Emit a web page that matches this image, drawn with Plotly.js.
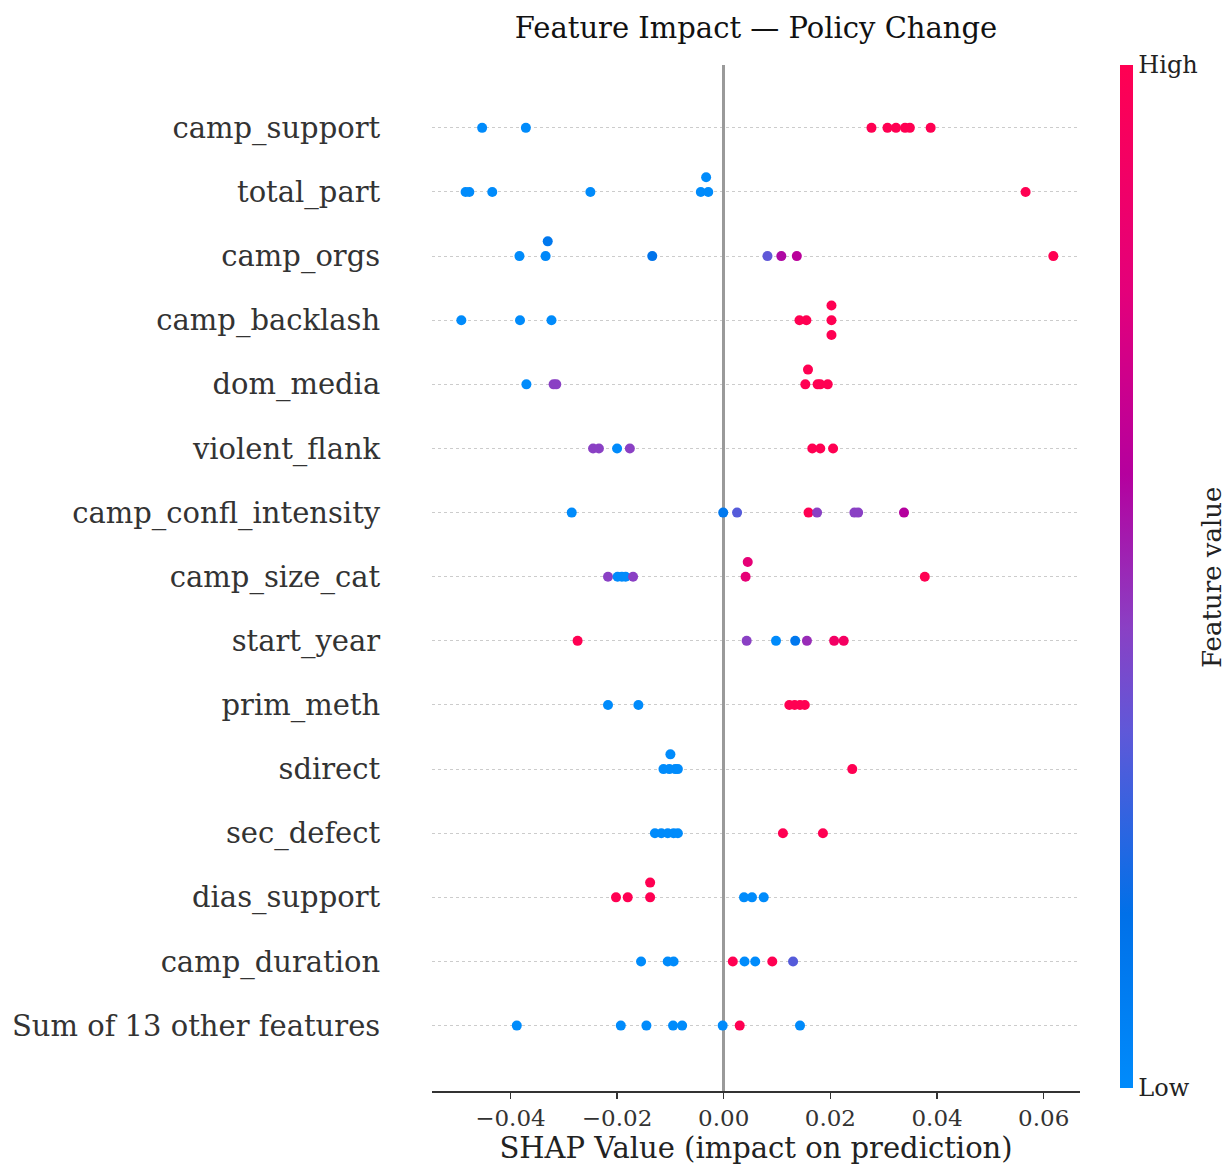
<!DOCTYPE html>
<html>
<head>
<meta charset="utf-8">
<script src="https://cdn.plot.ly/plotly-3.0.1.min.js"></script>
<style>html,body{margin:0;padding:0;background:#fff;}#chart{width:1227px;height:1167px;}</style>
</head>
<body>
<div id="chart"></div>
<script>
// Features, top to bottom
const features = ["camp_support","total_part","camp_orgs","camp_backlash","dom_media","violent_flank",
  "camp_confl_intensity","camp_size_cat","start_year","prim_meth","sdirect","sec_defect",
  "dias_support","camp_duration","Sum of 13 other features"];

// SHAP values per feature
const shap_camp_support = [-0.0453,-0.0371,0.0277,0.0307,0.0323,0.0340,0.0349,0.0388];
const shap_total_part = [-0.0484,-0.0477,-0.0434,-0.0250,-0.0043,-0.0029,-0.0033,0.0566];
const shap_camp_orgs = [-0.0383,-0.0334,-0.0330,-0.0134,0.0082,0.0108,0.0137,0.0618];
const shap_camp_backlash = [-0.0492,-0.0382,-0.0323,0.0142,0.0155,0.0202,0.0202,0.0202];
const shap_dom_media = [-0.0370,-0.0319,-0.0314,0.0153,0.0158,0.0176,0.0181,0.0195];
const shap_violent_flank = [-0.0245,-0.0234,-0.0200,-0.0176,0.0166,0.0181,0.0205];
const shap_camp_confl_intensity = [-0.0285,-0.0001,0.0025,0.0159,0.0175,0.0245,0.0252,0.0338];
const shap_camp_size_cat = [-0.0217,-0.0199,-0.0191,-0.0184,-0.0170,0.0041,0.0045,0.0377];
const shap_start_year = [-0.0274,0.0043,0.0098,0.0134,0.0156,0.0207,0.0225];
const shap_prim_meth = [-0.0217,-0.0160,0.0123,0.0133,0.0143,0.0152];
const shap_sdirect = [-0.0113,-0.0102,-0.0091,-0.0086,-0.0100,0.0241];
const shap_sec_defect = [-0.0129,-0.0117,-0.0105,-0.0094,-0.0086,0.0111,0.0186];
const shap_dias_support = [-0.0202,-0.0180,-0.0138,-0.0138,0.0038,0.0053,0.0075];
const shap_camp_duration = [-0.0155,-0.0105,-0.0094,0.0017,0.0039,0.0059,0.0091,0.0130];
const shap_other = [-0.0388,-0.0193,-0.0145,-0.0095,-0.0078,-0.0002,0.0030,0.0143];

// Normalised feature values (0 = low, 1 = high)
const fval_camp_support = [0,0,1,1,1,1,1,1];
const fval_total_part = [0,0,0,0,0,0,0,1];
const fval_camp_orgs = [0,0.02,0.12,0.15,0.35,0.58,0.62,1];
const fval_camp_backlash = [0,0,0,1,1,1,1,1];
const fval_dom_media = [0,0.45,0.45,1,1,1,1,1];
const fval_violent_flank = [0.45,0.45,0,0.45,1,1,1];
const fval_camp_confl_intensity = [0,0.12,0.33,1,0.45,0.45,0.45,0.6];
const fval_camp_size_cat = [0.45,0,0,0,0.45,0.8,0.8,1];
const fval_start_year = [1,0.45,0,0.12,0.5,0.9,0.92];
const fval_prim_meth = [0,0,1,1,1,1];
const fval_sdirect = [0,0,0,0,0,1];
const fval_sec_defect = [0,0,0,0,0,1,1];
const fval_dias_support = [1,1,1,1,0,0,0];
const fval_camp_duration = [0,0,0,1,0,0,1,0.33];
const fval_other = [0,0,0,0,0,0,1,0];

// Beeswarm stacking level per point (0 = on row, +1 above, -1 below)
const lvl_camp_support = [0,0,0,0,0,0,0,0];
const lvl_total_part = [0,0,0,0,0,0,1,0];
const lvl_camp_orgs = [0,0,1,0,0,0,0,0];
const lvl_camp_backlash = [0,0,0,0,0,1,0,-1];
const lvl_dom_media = [0,0,0,0,1,0,0,0];
const lvl_violent_flank = [0,0,0,0,0,0,0];
const lvl_camp_confl_intensity = [0,0,0,0,0,0,0,0];
const lvl_camp_size_cat = [0,0,0,0,0,0,1,0];
const lvl_start_year = [0,0,0,0,0,0,0];
const lvl_prim_meth = [0,0,0,0,0,0];
const lvl_sdirect = [0,0,0,0,1,0];
const lvl_sec_defect = [0,0,0,0,0,0,0];
const lvl_dias_support = [0,0,0,1,0,0,0];
const lvl_camp_duration = [0,0,0,0,0,0,0,0];
const lvl_other = [0,0,0,0,0,0,0,0];

const xTickVals = [-0.04,-0.02,0.00,0.02,0.04,0.06];
const xTickText = ["\u22120.04","\u22120.02","0.00","0.02","0.04","0.06"];
const colorbarLabels = ["Low", "High"];

const shapAll = [shap_camp_support,shap_total_part,shap_camp_orgs,shap_camp_backlash,shap_dom_media,
  shap_violent_flank,shap_camp_confl_intensity,shap_camp_size_cat,shap_start_year,shap_prim_meth,
  shap_sdirect,shap_sec_defect,shap_dias_support,shap_camp_duration,shap_other];
const fvalAll = [fval_camp_support,fval_total_part,fval_camp_orgs,fval_camp_backlash,fval_dom_media,
  fval_violent_flank,fval_camp_confl_intensity,fval_camp_size_cat,fval_start_year,fval_prim_meth,
  fval_sdirect,fval_sec_defect,fval_dias_support,fval_camp_duration,fval_other];
const lvlAll = [lvl_camp_support,lvl_total_part,lvl_camp_orgs,lvl_camp_backlash,lvl_dom_media,
  lvl_violent_flank,lvl_camp_confl_intensity,lvl_camp_size_cat,lvl_start_year,lvl_prim_meth,
  lvl_sdirect,lvl_sec_defect,lvl_dias_support,lvl_camp_duration,lvl_other];

const N = features.length;
const STACK = 0.23;
const xs = [], ys = [], cs = [];
for (let i = 0; i < N; i++) {
  const row = N - 1 - i;
  shapAll[i].forEach((v, j) => {
    xs.push(v);
    ys.push(row + lvlAll[i][j] * STACK);
    cs.push(fvalAll[i][j]);
  });
}
const rowVals = features.map((f, i) => N - 1 - i);

const colorscale = [
  [0, "#008bfb"], [0.17, "#0070e8"], [0.35, "#6058d8"], [0.45, "#8a40c4"],
  [0.6, "#b5009e"], [0.78, "#e4007a"], [1, "#ff0052"]
];

const FONT = "DejaVu Serif, serif";

const trace = {
  type: "scatter", mode: "markers",
  x: xs, y: ys,
  marker: {
    size: 10, color: cs, colorscale: colorscale, cmin: 0, cmax: 1,
    line: {width: 0},
    colorbar: {
      x: 1.0617, xanchor: "left", xref: "paper", xpad: 0,
      y: 1, yanchor: "top", ypad: 0, len: 0.997, lenmode: "fraction",
      thickness: 13, outlinewidth: 0,
      tickvals: [0, 1], ticktext: colorbarLabels, ticks: "",
      tickfont: {family: FONT, size: 24, color: "#222"}
    }
  },
  hoverinfo: "skip",
  showlegend: false
};

const layout = {
  width: 1227, height: 1167,
  margin: {l: 432, r: 147, t: 65, b: 76},
  paper_bgcolor: "#fff", plot_bgcolor: "#fff",
  font: {family: FONT, color: "#333"},
  title: {text: "Feature Impact \u2014 Policy Change", x: 0.5, xref: "paper", xanchor: "center",
          y: 1 - 28 / 1167, yref: "container", yanchor: "middle",
          font: {family: FONT, size: 29, color: "#111"}},
  xaxis: {
    range: [-0.0547, 0.0668],
    tickvals: xTickVals, ticktext: xTickText,
    ticks: "outside", ticklen: 6, tickwidth: 1.2, tickcolor: "#333",
    showline: true, linecolor: "#333", linewidth: 1.5,
    showgrid: false,
    zeroline: true, zerolinecolor: "#9a9a9a", zerolinewidth: 2.5,
    tickfont: {family: FONT, size: 23, color: "#333"},
    title: {text: "SHAP Value (impact on prediction)", standoff: 7,
            font: {family: FONT, size: 29, color: "#222"}}
  },
  yaxis: {
    range: [-1.02, 14.98],
    tickvals: rowVals, ticktext: features,
    ticks: "outside", ticklen: 45, tickcolor: "rgba(0,0,0,0)",
    showline: false, zeroline: false,
    showgrid: true, gridcolor: "#cccccc", gridwidth: 1, griddash: "dot",
    tickfont: {family: FONT, size: 29, color: "#333"}
  },
  annotations: [{
    text: "Feature value", textangle: -90, showarrow: false,
    xref: "paper", yref: "paper", x: (1212 - 432) / 648, y: 0.5,
    xanchor: "center", yanchor: "middle",
    font: {family: FONT, size: 26, color: "#222"}
  }]
};

Plotly.newPlot("chart", [trace], layout, {staticPlot: true, displayModeBar: false});
</script>
</body>
</html>
